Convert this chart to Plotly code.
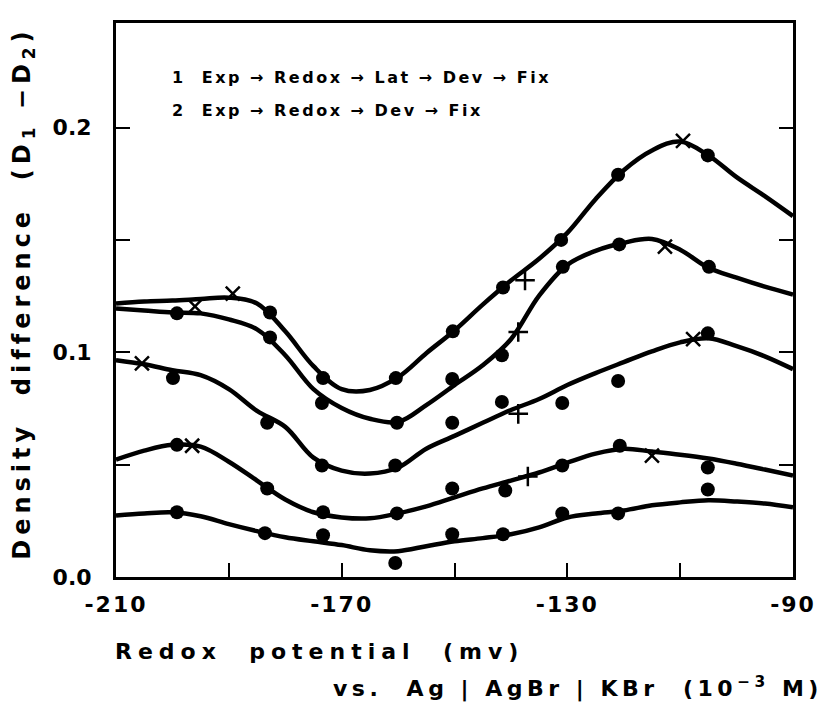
import plotly.graph_objects as go

# ---- data ----
grid_x = [-210, -205, -200, -195, -190, -185, -180, -175, -170, -165, -160, -155,
          -150, -145, -140, -135, -130, -125, -120, -115, -110, -105, -100, -95, -90]

curve_a = [0.1217, 0.1226, 0.1230, 0.1237, 0.1243, 0.1217, 0.1093, 0.0938, 0.0836, 0.0832,
           0.0889, 0.0996, 0.1097, 0.1212, 0.1319, 0.1416, 0.1531, 0.1681, 0.1810, 0.1898,
           0.1938, 0.1876, 0.1779, 0.1695, 0.1606]
curve_b = [0.1195, 0.1186, 0.1177, 0.1173, 0.1146, 0.1102, 0.0987, 0.0836, 0.0752, 0.0704,
           0.0690, 0.0765, 0.0854, 0.0942, 0.1058, 0.1252, 0.1389, 0.1451, 0.1487, 0.1504,
           0.1456, 0.1376, 0.1332, 0.1292, 0.1257]
curve_c = [0.0965, 0.0947, 0.0920, 0.0898, 0.0836, 0.0739, 0.0668, 0.0531, 0.0473, 0.0460,
           0.0487, 0.0571, 0.0628, 0.0686, 0.0743, 0.0792, 0.0854, 0.0907, 0.0956, 0.1004,
           0.1044, 0.1062, 0.1027, 0.0982, 0.0925]
curve_d = [0.0522, 0.0562, 0.0588, 0.0580, 0.0513, 0.0429, 0.0345, 0.0288, 0.0265, 0.0261,
           0.0283, 0.0314, 0.0354, 0.0394, 0.0429, 0.0465, 0.0509, 0.0549, 0.0571, 0.0558,
           0.0544, 0.0527, 0.0504, 0.0478, 0.0451]
curve_e = [0.0274, 0.0283, 0.0288, 0.0270, 0.0235, 0.0204, 0.0177, 0.0159, 0.0142, 0.0119,
           0.0115, 0.0137, 0.0159, 0.0173, 0.0190, 0.0221, 0.0265, 0.0283, 0.0296, 0.0319,
           0.0332, 0.0341, 0.0336, 0.0327, 0.0310]

dot_x = [-199.2, -199.9, -199.2, -199.2,
         -182.7, -182.7, -183.2, -183.2, -183.6,
         -173.3, -173.5, -173.5, -173.3, -173.3,
         -160.4, -160.2, -160.5, -160.2, -160.5,
         -150.3, -150.4, -150.4, -150.4, -150.4,
         -141.4, -141.6, -141.6, -141.0, -141.4,
         -131.1, -130.8, -130.9, -130.9, -130.9,
         -121.0, -120.8, -121.0, -120.7, -121.0,
         -105.1, -104.9, -105.1, -105.1, -105.1]
dot_y = [0.1173, 0.0885, 0.0588, 0.0288,
         0.1177, 0.1066, 0.0686, 0.0394, 0.0195,
         0.0885, 0.0774, 0.0496, 0.0288, 0.0186,
         0.0885, 0.0686, 0.0496, 0.0283, 0.0062,
         0.1093, 0.0881, 0.0686, 0.0394, 0.0190,
         0.1288, 0.0987, 0.0779, 0.0385, 0.0190,
         0.1500, 0.1380, 0.0774, 0.0496, 0.0283,
         0.1790, 0.1480, 0.0872, 0.0584, 0.0283,
         0.1876, 0.1380, 0.1084, 0.0487, 0.0389]

cross_x = [-189.3, -196.0, -205.4, -196.5, -109.5, -112.7, -107.7, -115.0]
cross_y = [0.1261, 0.1204, 0.0951, 0.0584, 0.1940, 0.1470, 0.1058, 0.0540]

plus_x = [-137.5, -138.7, -138.7, -137.0]
plus_y = [0.1320, 0.1090, 0.0726, 0.0447]

x_ticks = [-210, -190, -170, -150, -130, -110, -90]
x_labels = ["-210", "", "-170", "", "-130", "", "-90"]
y_ticks = [0.0, 0.05, 0.1, 0.15, 0.2]
y_labels = ["0.0", "", "0.1", "", "0.2"]

FONT = "DejaVu Sans"
Y_RANGE = [0, 0.2465]

fig = go.Figure()
for cy in [curve_a, curve_b, curve_c, curve_d, curve_e]:
    fig.add_trace(go.Scatter(x=grid_x, y=cy, mode="lines",
                             line=dict(color="black", width=4.5, shape="spline", smoothing=1),
                             hoverinfo="skip", showlegend=False))

fig.add_trace(go.Scatter(x=dot_x, y=dot_y, mode="markers",
                         marker=dict(symbol="circle", size=14, color="black"),
                         showlegend=False))
fig.add_trace(go.Scatter(x=cross_x, y=cross_y, mode="markers", yaxis="y2",
                         marker=dict(symbol="x-thin-open", size=14, color="black",
                                     line=dict(color="black", width=2.5)),
                         showlegend=False))
fig.add_trace(go.Scatter(x=plus_x, y=plus_y, mode="markers", yaxis="y2",
                         marker=dict(symbol="cross-thin-open", size=14, color="black",
                                     line=dict(color="black", width=2.5)),
                         showlegend=False))

fig.update_layout(
    width=817, height=699,
    margin=dict(l=108, r=32, t=12, b=130),
    paper_bgcolor="white", plot_bgcolor="white",
    font=dict(family=FONT, color="black", size=20),
    showlegend=False,
)
tick_font = dict(family=FONT, size=22, color="black", weight="bold")
fig.update_layout(
    xaxis=dict(range=[-210, -90], tickmode="array", tickvals=x_ticks, ticktext=x_labels,
               ticks="inside", ticklen=14, tickwidth=2, tickcolor="black",
               showline=True, linewidth=3, linecolor="black", mirror=True,
               showgrid=False, zeroline=False, ticklabelstandoff=6,
               tickfont=tick_font),
    # labelled axis: transparent outside ticks push the labels away from the frame
    yaxis=dict(range=Y_RANGE, tickmode="array", tickvals=y_ticks, ticktext=y_labels,
               ticks="outside", ticklen=17, tickwidth=1, tickcolor="rgba(0,0,0,0)",
               showline=True, linewidth=3, linecolor="black", mirror=True,
               showgrid=False, zeroline=False, tickfont=tick_font),
    # overlay axis carrying the inward ticks on both sides
    yaxis2=dict(range=Y_RANGE, matches="y", overlaying="y", side="left",
                tickmode="array", tickvals=y_ticks, showticklabels=False,
                ticks="inside", ticklen=14, tickwidth=2, tickcolor="black",
                showline=True, linewidth=3, linecolor="black", mirror="ticks",
                showgrid=False, zeroline=False),
)


def px_x(page_x):
    return (page_x - 116) / 677


def px_y(page_y):
    return (577 - page_y) / 557


ann_font = dict(family=FONT, size=16, color="black", weight="bold")
fig.add_annotation(text="1  Exp \u2192 Redox \u2192 Lat \u2192 Dev \u2192 Fix",
                   x=px_x(170), y=px_y(75), xref="paper", yref="paper",
                   xanchor="left", yanchor="middle", showarrow=False, font=ann_font)
fig.add_annotation(text="2  Exp \u2192 Redox \u2192 Dev \u2192 Fix",
                   x=px_x(170), y=px_y(108), xref="paper", yref="paper",
                   xanchor="left", yanchor="middle", showarrow=False, font=ann_font)

fig.add_annotation(text="Density  difference  (D<sub>1</sub> \u2212D<sub>2</sub>)",
                   x=px_x(24), y=px_y(292), xref="paper", yref="paper",
                   xanchor="center", yanchor="middle", textangle=-90, showarrow=False,
                   font=dict(family=FONT, size=24, color="black", weight="bold"))
fig.add_annotation(text="Redox  potential  (mv)",
                   x=px_x(113), y=px_y(652), xref="paper", yref="paper",
                   xanchor="left", yanchor="middle", showarrow=False,
                   font=dict(family=FONT, size=22, color="black", weight="bold"))
fig.add_annotation(text="vs.  Ag | AgBr | KBr  (10<sup>\u22123</sup> M)",
                   x=px_x(331), y=px_y(688), xref="paper", yref="paper",
                   xanchor="left", yanchor="middle", showarrow=False,
                   font=dict(family=FONT, size=22, color="black", weight="bold"))

post = """
var gd = document.getElementById('{plot_id}');
function spaceText() {
  gd.querySelectorAll('.annotation-text').forEach(function (t) {
    var s = t.textContent;
    var ls = 2.5, keepLeft = true;
    if (s.indexOf('Density') >= 0) { ls = 5; keepLeft = false; }
    else if (s.indexOf('Exp') >= 0) { ls = 2.5; }
    else if (s.indexOf('potential') >= 0) { ls = 6; }
    else if (s.indexOf('vs.') >= 0) { ls = 4.5; }
    var b0 = t.getBBox();
    t.style.letterSpacing = ls + 'px';
    if (keepLeft) {
      var b1 = t.getBBox();
      var x = parseFloat(t.getAttribute('x') || '0');
      t.setAttribute('x', x + (b0.x - b1.x));
    }
  });
  gd.querySelectorAll('.xtick text').forEach(function (t) {
    t.style.letterSpacing = '2px';
  });
}
spaceText();
"""

fig.write_html("out.html", post_script=post)
